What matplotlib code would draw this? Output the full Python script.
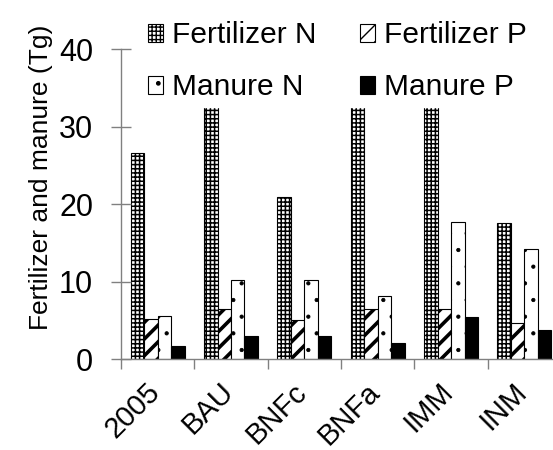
import matplotlib
matplotlib.use("Agg")
import matplotlib.pyplot as plt
import matplotlib.transforms as mtransforms
import numpy as np

plt.rcParams['font.family'] = ['Liberation Sans', 'DejaVu Sans']
plt.rcParams['hatch.linewidth'] = 1.0

# Scenarios and amounts (Tg)
scenarios = ["2005", "BAU", "BNFc", "BNFa", "IMM", "INM"]
fert_n = [26.6, 45.0, 20.9, 43.0, 45.0, 17.5]
fert_p = [5.2, 6.4, 5.0, 6.4, 6.4, 4.6]
manure_n = [5.6, 10.2, 10.2, 8.1, 17.7, 14.2]
manure_p = [1.7, 3.0, 3.0, 2.1, 5.4, 3.8]

# name, values, fill, hatch, hatch line width
series = [
    ("Fertilizer N", fert_n, "white", "++++", 1.1),
    ("Fertilizer P", fert_p, "white", "//", 2.6),
    ("Manure N", manure_n, "white", ".", 0.6),
    ("Manure P", manure_p, "black", None, 1.0),
]

fig = plt.figure(figsize=(5.53, 4.5), dpi=100)
ax = fig.add_axes([0.2188, 0.2022, 0.7957, 0.6889])

x = np.arange(len(scenarios)) + 0.5
largeur = 0.184
barres = []
for i, (nom, valeurs, couleur, motif, lw_motif) in enumerate(series):
    b = ax.bar(x + (i - 1.5) * largeur, valeurs, width=largeur, color=couleur,
               edgecolor="black", linewidth=0.8, hatch=motif, label=nom)
    for p in b.patches:
        try:
            p.set_hatch_linewidth(lw_motif)
        except AttributeError:
            pass
    barres.append(b)

ax.set_xlim(0, len(scenarios))
ax.set_ylim(0, 40)
ax.set_yticks([0, 10, 20, 30, 40])
ax.tick_params(axis="y", labelsize=22, direction="inout", length=14,
               width=1, color="#808080", pad=13)

# separators between scenario groups, labels centred in each group
ax.set_xticks(np.arange(len(scenarios) + 1))
ax.set_xticklabels([])
ax.tick_params(axis="x", which="major", direction="out", length=7,
               width=1, color="#808080")
ax.set_xticks(x, minor=True)
ax.set_xticklabels(scenarios, minor=True, rotation=45, ha="right",
                   rotation_mode="default", fontsize=21)
ax.tick_params(axis="x", which="minor", length=0, pad=12)
decalage = mtransforms.ScaledTranslation(0.08, -0.02, fig.dpi_scale_trans)
for lab in ax.get_xticklabels(minor=True):
    lab.set_transform(lab.get_transform() + decalage)

for cote in ["top", "right"]:
    ax.spines[cote].set_visible(False)
for cote in ["left", "bottom"]:
    ax.spines[cote].set_color("#808080")
    ax.spines[cote].set_linewidth(1)

ax.set_ylabel("Fertilizer and manure (Tg)", fontsize=19)
ax.yaxis.set_label_coords(-0.155, 0.587)

# legend filled row by row: N on the left, P on the right
ordre = [0, 2, 1, 3]
leg = ax.legend([barres[k] for k in ordre], [series[k][0] for k in ordre],
                ncol=2, loc="upper left", bbox_to_anchor=(0.257, 0.966),
                bbox_transform=fig.transFigure, fontsize=21.5,
                frameon=True, fancybox=False, framealpha=1,
                handlelength=0.5, handleheight=0.55, handletextpad=0.3,
                columnspacing=1.45, labelspacing=0.8, borderpad=0.2,
                borderaxespad=0)
leg.get_frame().set_edgecolor("white")
leg.get_frame().set_facecolor("white")

plt.savefig("out.png", dpi=100)
